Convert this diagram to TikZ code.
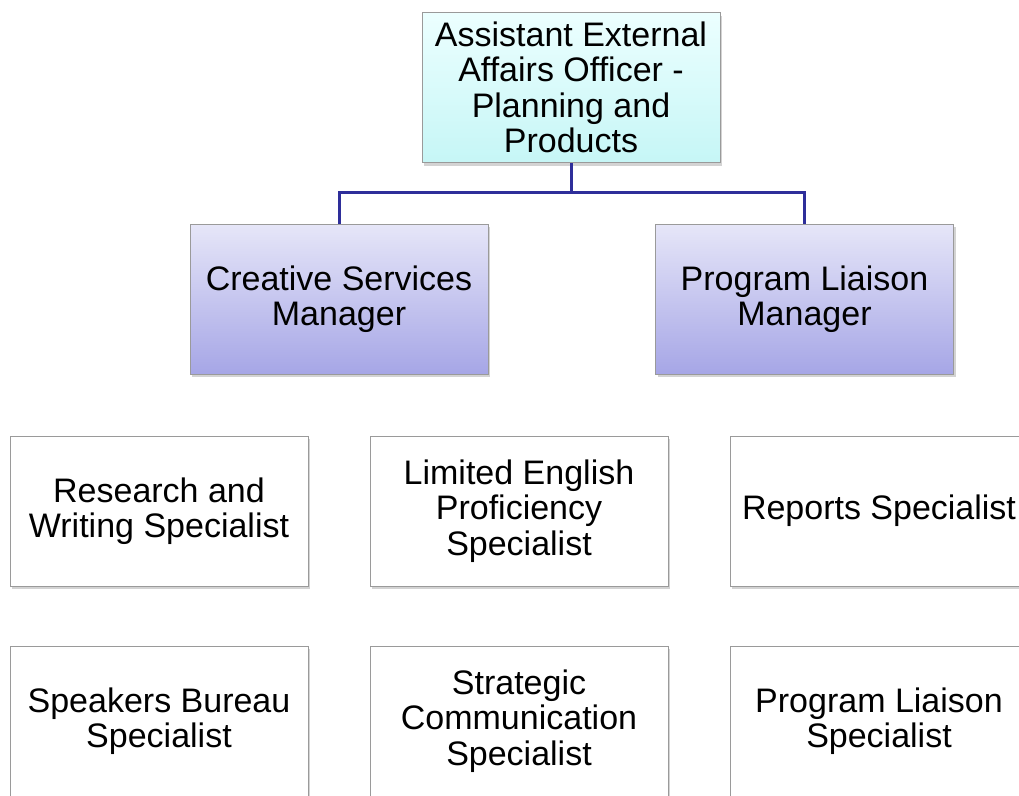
\documentclass[tikz,border=0pt]{standalone}
\usepackage{fontspec}
\setmainfont{Liberation Sans}
\usetikzlibrary{shadows}
\definecolor{bordergray}{HTML}{9A9A9A}
\definecolor{topA}{HTML}{ECFFFF}
\definecolor{topB}{HTML}{C6F6F6}
\definecolor{mgrA}{HTML}{E6E6F8}
\definecolor{mgrB}{HTML}{A6A6E6}
\definecolor{linkblue}{HTML}{2E2E9A}
\tikzset{
  box/.style={draw=bordergray, line width=1pt, minimum width=298pt, minimum height=150pt,
    inner sep=0pt, align=center, font=\fontsize{34}{35.5}\selectfont,
    drop shadow={shadow xshift=2pt, shadow yshift=-3pt, opacity=0.35, fill=gray}},
  topbox/.style={box, top color=topA, bottom color=topB},
  mgrbox/.style={box, top color=mgrA, bottom color=mgrB},
  specbox/.style={box, fill=white},
  conn/.style={draw=linkblue, line width=3pt}
}
\begin{document}
\begin{tikzpicture}[x=1pt,y=-1pt]
\useasboundingbox (0,0) rectangle (1019,795);
\clip (0,0) rectangle (1019,795);
\node[topbox] (top) at (571,87.5) {Assistant External\\Affairs Officer -\\Planning and\\Products};
\node[mgrbox] (csm) at (339,299) {Creative Services\\Manager};
\node[mgrbox] (plm) at (804.5,299) {Program Liaison\\Manager};
\coordinate (j) at (571,192);
\draw[conn] (top.south) -- (j);
\draw[conn] (csm.north) |- (j) -| (plm.north);
\node[specbox] (rws) at (159,511) {Research and\\Writing Specialist};
\node[specbox] (leps) at (519,511) {Limited English\\Proficiency\\Specialist};
\node[specbox] (rs) at (879,511) {Reports Specialist};
\node[specbox] (sbs) at (159,721) {Speakers Bureau\\Specialist};
\node[specbox] (scs) at (519,721) {Strategic\\Communication\\Specialist};
\node[specbox] (pls) at (879,721) {Program Liaison\\Specialist};
\end{tikzpicture}
\end{document}
